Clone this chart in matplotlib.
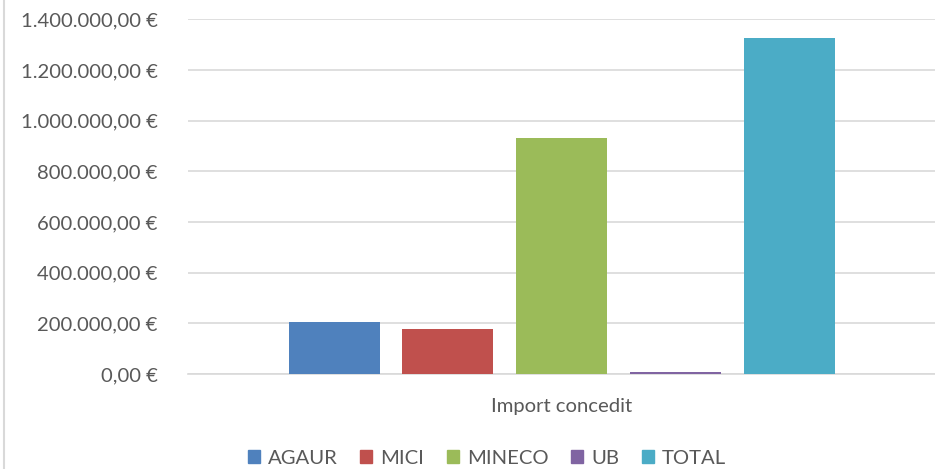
import numpy as np
import matplotlib.pyplot as plt
from matplotlib.lines import Line2D

# Data (euros)
series = ['AGAUR', 'MICI', 'MINECO', 'UB', 'TOTAL']
values = [206000, 178000, 933000, 8500, 1325500]
colors = ['#4F81BD', '#C0504D', '#9BBB59', '#8064A2', '#4BACC6']
category = 'Import concedit'
yticks = [0, 200000, 400000, 600000, 800000, 1000000, 1200000, 1400000]

plt.rcParams['font.family'] = ['Lato', 'DejaVu Sans']
text_color = '#595959'
grid_color = '#D9D9D9'

W, H = 935, 469
fig = plt.figure(figsize=(W / 100, H / 100), dpi=100)
ax = fig.add_axes([188 / W, 1 - 374 / H, (935 - 188) / W, (374 - 19.5) / H])

step = 1.25
pos = np.arange(len(series)) * step
for x, v, c, name in zip(pos, values, colors, series):
    ax.bar(x, v, width=1.0, color=c, label=name, zorder=3)

center = pos.mean()
half = (935 - 188) / 2 / 91
ax.set_xlim(center - half, center + half)
ax.set_ylim(0, 1400000)

def euro(v):
    s = f'{v:,.2f}'.replace(',', 'X').replace('.', ',').replace('X', '.')
    return s + ' €'

ax.set_yticks(yticks)
ax.set_yticklabels([euro(v) for v in yticks])
ax.yaxis.grid(True, color=grid_color, linewidth=1.2, zorder=0)
ax.set_xticks([center])
ax.set_xticklabels([category])
ax.tick_params(axis='both', length=0, labelsize=14.6, colors=text_color)
ax.tick_params(axis='y', pad=22)
ax.tick_params(axis='x', pad=17)
for s in ['top', 'right', 'left']:
    ax.spines[s].set_visible(False)
ax.spines['bottom'].set_color(grid_color)
ax.spines['bottom'].set_linewidth(1.2)

# chart border on the left
fig.add_artist(Line2D([3.5 / W, 3.5 / W], [0, 1], color=grid_color, linewidth=1.5))

handles = [plt.Rectangle((0, 0), 1, 1, color=c) for c in colors]
leg = fig.legend(handles, series, loc='center', bbox_to_anchor=(487 / W, 1 - 458 / H),
                 ncol=5, frameon=False, fontsize=14.6, handlelength=0.6,
                 handleheight=0.6, handletextpad=0.4, columnspacing=1.1,
                 borderpad=0)
for t in leg.get_texts():
    t.set_color(text_color)

fig.savefig('out.png', dpi=100)
